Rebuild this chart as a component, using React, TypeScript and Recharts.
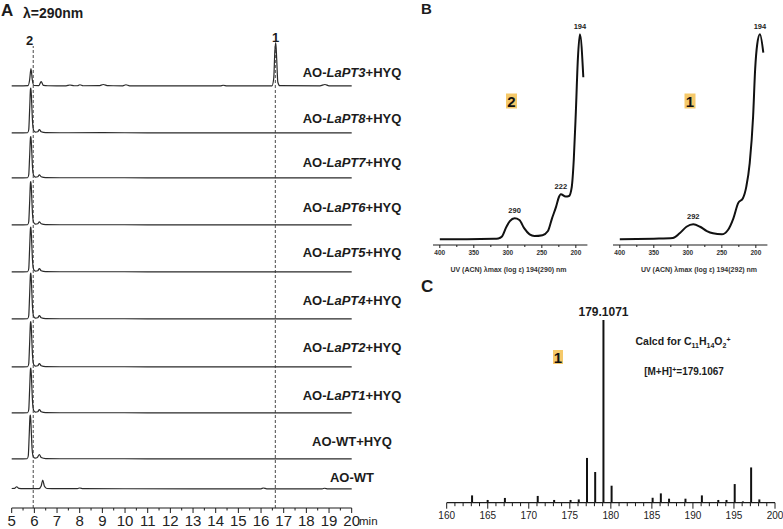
import React from 'react';
import { LineChart, Line, XAxis, YAxis, ReferenceLine, ReferenceDot, BarChart, Bar } from 'recharts';

const FONT = '"Liberation Sans", Arial, sans-serif';
const INK = '#1c1c1c';
const HIGHLIGHT = '#F5C96A';

// ---------- Panel A: HPLC traces (290 nm), retention time in min ----------
const timeTicks = [5, 5.5, 6, 6.5, 7, 7.5, 8, 8.5, 9, 9.5, 10, 10.5, 11, 11.5, 12, 12.5, 13, 13.5, 14, 14.5, 15, 15.5, 16, 16.5, 17, 17.5, 18, 18.5, 19, 19.5, 20];
const peak2Time = 5.95;
const peak1Time = 16.63;

const traceLabels = [
  'AO-LaPT3+HYQ', 'AO-LaPT8+HYQ', 'AO-LaPT7+HYQ', 'AO-LaPT6+HYQ', 'AO-LaPT5+HYQ',
  'AO-LaPT4+HYQ', 'AO-LaPT2+HYQ', 'AO-LaPT1+HYQ', 'AO-WT+HYQ', 'AO-WT',
];

const tLaPT3 = [
  { t: 5.0, a: 0.003 }, { t: 5.5, a: 0.003 }, { t: 5.72, a: 0.006 }, { t: 5.79, a: 0.12 }, { t: 5.85, a: 0.35 },
  { t: 5.91, a: 0.12 }, { t: 5.98, a: 0.01 }, { t: 6.2, a: 0.008 }, { t: 6.3, a: 0.09 }, { t: 6.4, a: 0.012 },
  { t: 6.6, a: 0.005 }, { t: 7.4, a: 0.004 }, { t: 7.57, a: 0.02 }, { t: 7.75, a: 0.005 }, { t: 7.9, a: 0.005 },
  { t: 8.01, a: 0.025 }, { t: 8.15, a: 0.005 }, { t: 8.85, a: 0.006 }, { t: 9.04, a: 0.03 }, { t: 9.25, a: 0.006 },
  { t: 9.9, a: 0.004 }, { t: 10.04, a: 0.025 }, { t: 10.2, a: 0.004 }, { t: 12, a: 0.002 }, { t: 14.2, a: 0.002 },
  { t: 14.33, a: 0.015 }, { t: 14.5, a: 0.002 }, { t: 16.48, a: 0.003 }, { t: 16.56, a: 0.15 }, { t: 16.61, a: 0.7 },
  { t: 16.65, a: 0.87 }, { t: 16.69, a: 0.55 }, { t: 16.74, a: 0.08 }, { t: 16.82, a: 0.006 }, { t: 18.6, a: 0.004 },
  { t: 18.82, a: 0.03 }, { t: 19, a: 0.004 }, { t: 20, a: 0.003 },
];
const tLaPT8 = [
  { t: 5, a: 0.002 }, { t: 5.5, a: 0.003 }, { t: 5.7, a: 0.005 }, { t: 5.75, a: 0.06 }, { t: 5.79, a: 0.45 },
  { t: 5.83, a: 0.88 }, { t: 5.85, a: 0.9 }, { t: 5.88, a: 0.62 }, { t: 5.92, a: 0.22 }, { t: 5.97, a: 0.05 },
  { t: 6.05, a: 0.018 }, { t: 6.15, a: 0.025 }, { t: 6.22, a: 0.07 }, { t: 6.3, a: 0.025 }, { t: 6.5, a: 0.008 },
  { t: 7.5, a: 0.005 }, { t: 9, a: 0.006 }, { t: 11, a: 0.004 }, { t: 13, a: 0.004 }, { t: 15, a: 0.003 },
  { t: 17, a: 0.003 }, { t: 20, a: 0.002 },
];
const tLaPT7 = [
  { t: 5, a: 0.002 }, { t: 5.5, a: 0.003 }, { t: 5.7, a: 0.005 }, { t: 5.75, a: 0.06 }, { t: 5.79, a: 0.42 },
  { t: 5.83, a: 0.81 }, { t: 5.85, a: 0.83 }, { t: 5.88, a: 0.58 }, { t: 5.92, a: 0.2 }, { t: 5.97, a: 0.05 },
  { t: 6.05, a: 0.018 }, { t: 6.15, a: 0.025 }, { t: 6.22, a: 0.065 }, { t: 6.3, a: 0.025 }, { t: 6.5, a: 0.008 },
  { t: 7.5, a: 0.005 }, { t: 9, a: 0.005 }, { t: 11, a: 0.004 }, { t: 13, a: 0.004 }, { t: 15, a: 0.003 },
  { t: 17, a: 0.003 }, { t: 20, a: 0.002 },
];
const tLaPT6 = [
  { t: 5, a: 0.002 }, { t: 5.5, a: 0.003 }, { t: 5.7, a: 0.005 }, { t: 5.75, a: 0.06 }, { t: 5.79, a: 0.44 },
  { t: 5.83, a: 0.85 }, { t: 5.85, a: 0.87 }, { t: 5.88, a: 0.6 }, { t: 5.92, a: 0.21 }, { t: 5.97, a: 0.05 },
  { t: 6.05, a: 0.018 }, { t: 6.15, a: 0.025 }, { t: 6.22, a: 0.065 }, { t: 6.3, a: 0.025 }, { t: 6.5, a: 0.008 },
  { t: 7.5, a: 0.005 }, { t: 9, a: 0.005 }, { t: 11, a: 0.004 }, { t: 13, a: 0.004 }, { t: 15, a: 0.003 },
  { t: 17, a: 0.003 }, { t: 20, a: 0.002 },
];
const tLaPT5 = [
  { t: 5, a: 0.002 }, { t: 5.5, a: 0.003 }, { t: 5.7, a: 0.005 }, { t: 5.75, a: 0.06 }, { t: 5.79, a: 0.46 },
  { t: 5.83, a: 0.88 }, { t: 5.85, a: 0.9 }, { t: 5.88, a: 0.62 }, { t: 5.92, a: 0.22 }, { t: 5.97, a: 0.05 },
  { t: 6.05, a: 0.018 }, { t: 6.15, a: 0.025 }, { t: 6.22, a: 0.07 }, { t: 6.3, a: 0.025 }, { t: 6.5, a: 0.008 },
  { t: 7.5, a: 0.005 }, { t: 9, a: 0.005 }, { t: 11, a: 0.004 }, { t: 13, a: 0.004 }, { t: 15, a: 0.003 },
  { t: 17, a: 0.003 }, { t: 20, a: 0.002 },
];
const tLaPT4 = [
  { t: 5, a: 0.002 }, { t: 5.5, a: 0.003 }, { t: 5.7, a: 0.005 }, { t: 5.75, a: 0.06 }, { t: 5.79, a: 0.47 },
  { t: 5.83, a: 0.9 }, { t: 5.85, a: 0.92 }, { t: 5.88, a: 0.63 }, { t: 5.92, a: 0.22 }, { t: 5.97, a: 0.05 },
  { t: 6.05, a: 0.018 }, { t: 6.15, a: 0.025 }, { t: 6.22, a: 0.07 }, { t: 6.3, a: 0.025 }, { t: 6.5, a: 0.008 },
  { t: 7.5, a: 0.005 }, { t: 9, a: 0.005 }, { t: 11, a: 0.004 }, { t: 13, a: 0.004 }, { t: 15, a: 0.003 },
  { t: 17, a: 0.003 }, { t: 20, a: 0.002 },
];
const tLaPT2 = [
  { t: 5, a: 0.002 }, { t: 5.5, a: 0.003 }, { t: 5.7, a: 0.005 }, { t: 5.75, a: 0.06 }, { t: 5.79, a: 0.46 },
  { t: 5.83, a: 0.89 }, { t: 5.85, a: 0.91 }, { t: 5.88, a: 0.62 }, { t: 5.92, a: 0.22 }, { t: 5.97, a: 0.05 },
  { t: 6.05, a: 0.018 }, { t: 6.15, a: 0.025 }, { t: 6.22, a: 0.07 }, { t: 6.3, a: 0.025 }, { t: 6.5, a: 0.008 },
  { t: 7.5, a: 0.005 }, { t: 9, a: 0.005 }, { t: 11, a: 0.004 }, { t: 13, a: 0.004 }, { t: 15, a: 0.003 },
  { t: 17, a: 0.003 }, { t: 20, a: 0.002 },
];
const tLaPT1 = [
  { t: 5, a: 0.002 }, { t: 5.5, a: 0.003 }, { t: 5.7, a: 0.005 }, { t: 5.75, a: 0.06 }, { t: 5.79, a: 0.46 },
  { t: 5.83, a: 0.88 }, { t: 5.85, a: 0.9 }, { t: 5.88, a: 0.62 }, { t: 5.92, a: 0.22 }, { t: 5.97, a: 0.05 },
  { t: 6.05, a: 0.018 }, { t: 6.15, a: 0.025 }, { t: 6.22, a: 0.07 }, { t: 6.3, a: 0.025 }, { t: 6.5, a: 0.008 },
  { t: 7.5, a: 0.005 }, { t: 9, a: 0.005 }, { t: 11, a: 0.004 }, { t: 13, a: 0.004 }, { t: 15, a: 0.003 },
  { t: 17, a: 0.003 }, { t: 20, a: 0.002 },
];
const tWTHYQ = [
  { t: 5, a: 0.002 }, { t: 5.5, a: 0.003 }, { t: 5.68, a: 0.005 }, { t: 5.73, a: 0.06 }, { t: 5.77, a: 0.45 },
  { t: 5.81, a: 0.86 }, { t: 5.83, a: 0.88 }, { t: 5.86, a: 0.6 }, { t: 5.9, a: 0.2 }, { t: 5.95, a: 0.05 },
  { t: 6.03, a: 0.018 }, { t: 6.13, a: 0.03 }, { t: 6.22, a: 0.09 }, { t: 6.3, a: 0.03 }, { t: 6.5, a: 0.008 },
  { t: 7.5, a: 0.005 }, { t: 9, a: 0.005 }, { t: 11, a: 0.004 }, { t: 13, a: 0.004 }, { t: 15, a: 0.003 },
  { t: 17, a: 0.003 }, { t: 20, a: 0.002 },
];
const tWT = [
  { t: 5, a: 0.01 }, { t: 5.12, a: 0.012 }, { t: 5.22, a: 0.045 }, { t: 5.32, a: 0.012 }, { t: 5.5, a: 0.006 },
  { t: 6.2, a: 0.006 }, { t: 6.3, a: 0.06 }, { t: 6.37, a: 0.18 }, { t: 6.44, a: 0.06 }, { t: 6.55, a: 0.01 },
  { t: 7, a: 0.006 }, { t: 7.9, a: 0.008 }, { t: 8.0, a: 0.02 }, { t: 8.15, a: 0.008 }, { t: 10, a: 0.005 },
  { t: 13, a: 0.004 }, { t: 16, a: 0.004 }, { t: 16.1, a: 0.02 }, { t: 16.25, a: 0.004 }, { t: 18.7, a: 0.003 },
  { t: 18.8, a: 0.015 }, { t: 18.95, a: 0.003 }, { t: 20, a: 0.003 },
];

const traceData = [tLaPT3, tLaPT8, tLaPT7, tLaPT6, tLaPT5, tLaPT4, tLaPT2, tLaPT1, tWTHYQ, tWT];

// Page layout of the stacked traces (baseline y and label baseline y)
const traceBaselines = [86, 133.3, 178.3, 225, 271.7, 319.3, 367, 413.3, 459.3, 489];
const traceLabelBaselines = [77, 122.5, 166.5, 211.5, 256.5, 304.5, 351.5, 399.5, 445.5, 481.5];

// ---------- Panel B: UV spectra (nm vs. absorbance, normalised) ----------
const uvTicks = [400, 375, 350, 325, 300, 275, 250, 225, 200];
const uvCompound2 = [
  { nm: 400, a: 0 }, { nm: 360, a: 0 }, { nm: 320, a: 0.002 }, { nm: 314, a: 0.004 }, { nm: 309, a: 0.012 },
  { nm: 302, a: 0.061 }, { nm: 297, a: 0.088 }, { nm: 290, a: 0.102 }, { nm: 283, a: 0.094 }, { nm: 276, a: 0.054 },
  { nm: 268, a: 0.024 }, { nm: 261, a: 0.016 }, { nm: 249, a: 0.02 }, { nm: 241, a: 0.04 }, { nm: 235, a: 0.102 },
  { nm: 229, a: 0.159 }, { nm: 225, a: 0.205 }, { nm: 222, a: 0.22 }, { nm: 215, a: 0.208 }, { nm: 210, a: 0.211 },
  { nm: 206, a: 0.255 }, { nm: 203, a: 0.39 }, { nm: 200, a: 0.62 }, { nm: 197, a: 0.88 }, { nm: 194, a: 1.0 },
  { nm: 189, a: 0.79 },
];
const uvCompound1 = [
  { nm: 400, a: 0 }, { nm: 350, a: 0.003 }, { nm: 322, a: 0.006 }, { nm: 312, a: 0.029 }, { nm: 302, a: 0.061 },
  { nm: 292, a: 0.073 }, { nm: 282, a: 0.061 }, { nm: 272, a: 0.04 }, { nm: 263, a: 0.029 }, { nm: 250, a: 0.024 },
  { nm: 241, a: 0.045 }, { nm: 233, a: 0.102 }, { nm: 226, a: 0.176 }, { nm: 219, a: 0.2 }, { nm: 214, a: 0.257 },
  { nm: 209, a: 0.371 }, { nm: 204, a: 0.6 }, { nm: 201, a: 0.83 }, { nm: 198, a: 0.95 }, { nm: 194, a: 1.0 },
  { nm: 189, a: 0.91 },
];
const uvMaxima2 = [{ nm: 194, a: 1.0 }, { nm: 222, a: 0.22 }, { nm: 290, a: 0.102 }];
const uvMaxima1 = [{ nm: 194, a: 1.0 }, { nm: 292, a: 0.073 }];

// ---------- Panel C: HRMS of compound 1 (m/z vs. relative intensity %) ----------
const mzTicks = [160, 161, 162, 163, 164, 165, 166, 167, 168, 169, 170, 171, 172, 173, 174, 175, 176, 177, 178, 179, 180,
  181, 182, 183, 184, 185, 186, 187, 188, 189, 190, 191, 192, 193, 194, 195, 196, 197, 198, 199, 200];
const msPeaks = [
  { mz: 163.1, rel: 4.0 }, { mz: 165.0, rel: 1.5 }, { mz: 167.1, rel: 2.6 }, { mz: 171.1, rel: 3.7 },
  { mz: 173.1, rel: 1.5 }, { mz: 175.1, rel: 1.5 }, { mz: 176.1, rel: 1.8 }, { mz: 177.1, rel: 24.5 },
  { mz: 178.1, rel: 16.8 }, { mz: 179.1071, rel: 100 }, { mz: 180.1, rel: 9.3 }, { mz: 185.1, rel: 2.7 },
  { mz: 186.1, rel: 5.1 }, { mz: 187.1, rel: 2.2 }, { mz: 189.1, rel: 2.2 }, { mz: 191.1, rel: 4.0 },
  { mz: 193.1, rel: 1.5 }, { mz: 194.1, rel: 1.5 }, { mz: 195.1, rel: 10.2 }, { mz: 196.1, rel: 0.7 },
  { mz: 197.1, rel: 19.3 }, { mz: 198.1, rel: 1.8 },
];
const basePeak = msPeaks[9];

// Axis tick drawn by hand so major/minor ticks get different lengths
function makeTick(major: number, majorLen: number, minorLen: number, fontSize: number, dy: number, weight: string, fill: string) {
  return (props: any) => {
    const { x, y, payload } = props;
    const v = payload.value;
    const isMajor = Math.abs(v / major - Math.round(v / major)) < 1e-6;
    return (
      <g>
        <line x1={x} x2={x} y1={y} y2={y + (isMajor ? majorLen : minorLen)} stroke={INK} strokeWidth={1} />
        {isMajor && (
          <text x={x} y={y + dy} textAnchor="middle" fontSize={fontSize} fontWeight={weight} fill={fill} fontFamily={FONT}>
            {v}
          </text>
        )}
      </g>
    );
  };
}

const timeTick = makeTick(1, 5, 2.5, 15, 17.5, 'normal', '#222');
const uvTick = makeTick(50, 3, 2, 6.5, 9.5, 'bold', '#333');
const mzTick = makeTick(5, 6, 3.5, 10, 16, 'normal', '#222');

function TraceLabel({ text, y }: { text: string; y: number }) {
  const parts = text.split(/(LaPT\d)/);
  return (
    <text x={352} y={y} textAnchor="middle" fontSize={13} fontWeight="bold" fill={INK} fontFamily={FONT}>
      {parts.map((p, i) => (
        <tspan key={i} fontStyle={/^LaPT\d$/.test(p) ? 'italic' : 'normal'}>{p}</tspan>
      ))}
    </text>
  );
}

function Badge({ cx, cy, label, w = 11, h = 15 }: { cx: number; cy: number; label: string; w?: number; h?: number }) {
  return (
    <g>
      <rect x={cx - w / 2} y={cy - h / 2} width={w} height={h} fill={HIGHLIGHT} />
      <text x={cx} y={cy + 5.5} textAnchor="middle" fontSize={15} fontWeight="bold" fill="#111" fontFamily={FONT}>{label}</text>
    </g>
  );
}

function UvPanel({ data, maxima, left }: { data: { nm: number; a: number }[]; maxima: { nm: number; a: number }[]; left: number }) {
  return (
    <div style={{ position: 'absolute', left, top: 0 }}>
      <LineChart width={180} height={260} data={data} margin={{ top: 24, right: 12.6, bottom: 0, left: 13 }}>
        <XAxis
          type="number" dataKey="nm" domain={[183, 410]} reversed allowDataOverflow
          ticks={uvTicks} interval={0} height={15} tickSize={0} tickMargin={0} tickLine={false}
          tick={uvTick} axisLine={{ stroke: INK, strokeWidth: 1.2 }}
        />
        <YAxis type="number" domain={[-0.028, 1.05]} hide allowDataOverflow />
        <Line dataKey="a" type="monotone" stroke="#111" strokeWidth={2} dot={false} isAnimationActive={false} />
        {maxima.map((m) => (
          <ReferenceDot
            key={m.nm} x={m.nm} y={m.a} r={0} stroke="none" fill="none" ifOverflow="visible"
            label={{ value: String(m.nm), position: 'top', offset: 5, fontSize: 7.5, fontWeight: 'bold', fill: '#222', fontFamily: FONT }}
          />
        ))}
      </LineChart>
    </div>
  );
}

export default function App() {
  return (
    <div style={{ position: 'absolute', left: 0, top: 0, width: 783, height: 529, background: '#fff', overflow: 'hidden', fontFamily: FONT }}>
      {traceData.map((data, i) => (
        <div key={traceLabels[i]} style={{ position: 'absolute', left: 0, top: traceBaselines[i] - 55 }}>
          <LineChart width={400} height={60} data={data} margin={{ top: 5, right: 48.3, bottom: 5, left: 11.7 }}>
            <XAxis type="number" dataKey="t" domain={[5, 20]} hide />
            <YAxis type="number" domain={[0, 1]} hide />
            <Line dataKey="a" type="monotone" stroke="#2a2a2a" strokeWidth={1.2} dot={false} isAnimationActive={false} />
          </LineChart>
        </div>
      ))}

      {/* Panel A: time axis and the dashed markers for compounds 2 and 1 */}
      <div style={{ position: 'absolute', left: 0, top: 0 }}>
        <LineChart width={400} height={529} data={tWT} margin={{ top: 46, right: 48.3, bottom: 0, left: 11.7 }}>
          <XAxis
            type="number" dataKey="t" domain={[5, 20]} ticks={timeTicks} interval={0} height={21}
            tickSize={0} tickMargin={0} tickLine={false} tick={timeTick} axisLine={{ stroke: INK, strokeWidth: 1.2 }}
          />
          <YAxis type="number" domain={[0, 1]} hide />
          <Line dataKey="a" stroke="none" dot={false} activeDot={false} isAnimationActive={false} />
          <ReferenceLine x={peak2Time} stroke="#333" strokeWidth={0.9} strokeDasharray="3 2" ifOverflow="visible" />
          <ReferenceLine x={peak1Time} stroke="#333" strokeWidth={0.9} strokeDasharray="3 2" ifOverflow="visible" />
        </LineChart>
      </div>

      {/* Panel B: UV spectra */}
      <UvPanel data={uvCompound2} maxima={uvMaxima2} left={420} />
      <UvPanel data={uvCompound1} maxima={uvMaxima1} left={600} />

      {/* Panel C: mass spectrum */}
      <div style={{ position: 'absolute', left: 420, top: 260 }}>
        <BarChart width={363} height={269} data={msPeaks} margin={{ top: 60, right: 8, bottom: 0, left: 26.7 }}>
          <XAxis
            type="number" dataKey="mz" domain={[160, 200]} ticks={mzTicks} interval={0} height={26.3}
            tickSize={0} tickMargin={0} tickLine={false} tick={mzTick} axisLine={{ stroke: INK, strokeWidth: 1.2 }}
          />
          <YAxis type="number" domain={[0, 100]} hide />
          <Bar dataKey="rel" fill="#111" barSize={2} isAnimationActive={false} />
          <ReferenceDot
            x={basePeak.mz} y={basePeak.rel} r={0} stroke="none" fill="none" ifOverflow="visible"
            label={{ value: basePeak.mz.toFixed(4), position: 'top', offset: 4, fontSize: 12, fontWeight: 'bold', fill: INK, fontFamily: FONT }}
          />
        </BarChart>
      </div>

      {/* Panel letters, trace names and annotations */}
      <svg width={783} height={529} style={{ position: 'absolute', left: 0, top: 0, pointerEvents: 'none' }}>
        <text x={1} y={15.5} fontSize={17} fontWeight="bold" fill={INK} fontFamily={FONT}>A</text>
        <text x={23} y={18} fontSize={14} fontWeight="bold" fill={INK} fontFamily={FONT}>λ=290nm</text>
        <text x={29.5} y={45} textAnchor="middle" fontSize={13} fontWeight="bold" fill={INK} fontFamily={FONT}>2</text>
        <text x={275.5} y={41.5} textAnchor="middle" fontSize={13} fontWeight="bold" fill={INK} fontFamily={FONT}>1</text>
        {traceLabels.map((lab, i) => (
          <TraceLabel key={lab} text={lab} y={traceLabelBaselines[i]} />
        ))}
        <text x={359} y={525} fontSize={11.5} fill="#222" fontFamily={FONT}>min</text>

        <text x={421} y={14} fontSize={15} fontWeight="bold" fill={INK} fontFamily={FONT}>B</text>
        <Badge cx={511.5} cy={101} label="2" />
        <Badge cx={690} cy={101} label="1" />
        <text x={508.5} y={272} textAnchor="middle" fontSize={7} fontWeight="bold" fill="#333" fontFamily={FONT}>UV (ACN) λmax (log ε) 194(290) nm</text>
        <text x={699} y={272} textAnchor="middle" fontSize={7} fontWeight="bold" fill="#333" fontFamily={FONT}>UV (ACN) λmax (log ε) 194(292) nm</text>

        <text x={421} y={292} fontSize={17} fontWeight="bold" fill={INK} fontFamily={FONT}>C</text>
        <Badge cx={558} cy={357} label="1" w={10} h={14} />
        <text x={683} y={345} textAnchor="middle" fontSize={10.5} fontWeight="bold" fill={INK} fontFamily={FONT}>
          Calcd for  C<tspan fontSize={7} dy={2.5}>11</tspan><tspan dy={-2.5}>H</tspan><tspan fontSize={7} dy={2.5}>14</tspan>
          <tspan dy={-2.5}>O</tspan><tspan fontSize={7} dy={2.5}>2</tspan><tspan fontSize={7} dy={-6}>+</tspan>
        </text>
        <text x={684} y={375} textAnchor="middle" fontSize={10} fontWeight="bold" fill={INK} fontFamily={FONT}>
          [M+H]<tspan fontSize={7} dy={-3.5}>+</tspan><tspan dy={3.5}>=179.1067</tspan>
        </text>
      </svg>
    </div>
  );
}
